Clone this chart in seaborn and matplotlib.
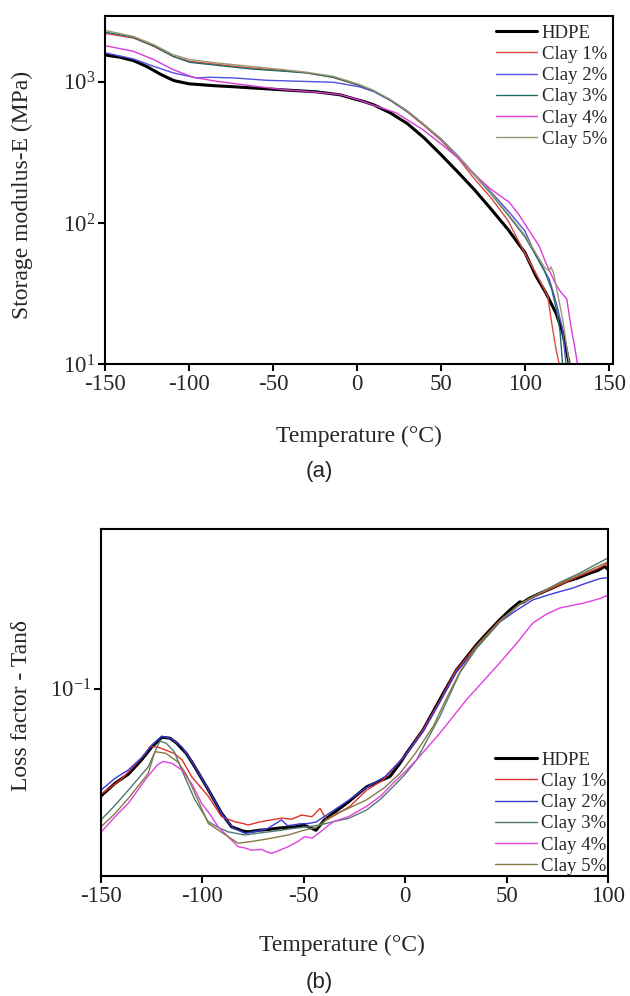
import matplotlib
matplotlib.use('Agg')

import matplotlib.pyplot as plt
from matplotlib.ticker import NullLocator, FixedLocator
import pandas as pd
import seaborn as sns

#   Data
#   (a) storage modulus E' (MPa) vs temperature (degC)
hdpe_a_t = [-150, -141, -133, -125, -117, -109, -100, -85, -74, -60, -44, -24, -10, 0, 3.6, 10, 20,
            30, 40, 50, 60, 70, 80, 90, 100, 106.7, 112.6, 118.6, 122.5, 126.5]
hdpe_a_e = [1541, 1486, 1406, 1276, 1127, 1016, 964, 935, 920, 898, 874, 846, 806, 745, 726, 685, 600,
            505, 400, 305, 230, 172, 125, 90, 62, 42, 32, 23, 16.9, 10]

clay1_a_t = [-150, -133, -121, -109.4, -99.5, -80, -63.8, -44, -30, -14.2, 1.6, 10, 20, 30, 40, 50, 60,
             70, 80, 90, 100.7, 108, 113.6, 115.6, 118.6, 120.5]
clay1_a_e = [2190, 2032, 1774, 1507, 1390, 1310, 1250, 1195, 1152, 1072, 937, 855, 735, 610, 488, 385,
             290, 205, 150, 104, 59, 41, 30.6, 21, 12.8, 10]

clay2_a_t = [-150, -133, -121, -109.4, -95.5, -87.6, -73.7, -53.9, -34, -14, 1.6, 10, 20, 30, 40, 50,
             60, 71, 80, 90.8, 100, 106.7, 114.6, 118.6, 122.5, 124.5]
clay2_a_e = [1600, 1445, 1282, 1152, 1062, 1072, 1062, 1021, 1005, 989, 918, 850, 735, 615, 495, 395,
             300, 215, 165, 119, 88, 58.6, 40, 27.5, 17.8, 10]

clay3_a_t = [-150, -133, -121, -109.4, -99.5, -80, -63.8, -44, -30, -14.2, 1.6, 10, 20, 30, 40, 50, 60,
             70, 80, 90, 100, 107, 112, 116, 119, 121, 122.5]
clay3_a_e = [2240, 2052, 1790, 1507, 1368, 1290, 1230, 1185, 1152, 1072, 940, 860, 740, 620, 495, 390,
             295, 218, 160, 114, 80, 58, 45, 34, 24, 17, 10]

clay4_a_t = [-150, -133, -121, -109.4, -97.5, -83.6, -63.8, -44, -24.2, -10.4, 0, 10, 23.4, 39.2, 49.2,
             60, 67, 78.8, 90.8, 96.6, 104.6, 108.5, 112.6, 118.4, 121, 125, 126.5, 128, 129.4, 131.4]
clay4_a_e = [1795, 1636, 1429, 1215, 1072, 1005, 937, 878, 841, 810, 750, 680, 601, 458, 370,
             290, 239, 177, 140, 114, 81, 69, 52, 37, 33, 29, 22, 17, 14, 10]

clay5_a_t = [-150, -133, -121, -109.4, -99.5, -83.6, -63.8, -44, -30, -14.2, 1.6, 10, 20, 30, 40, 50,
             60, 70, 80, 90, 100, 107, 112, 114.5, 115.5, 117, 118.6, 122.5, 126.5]
clay5_a_e = [2301, 2084, 1824, 1550, 1429, 1354, 1282, 1215, 1164, 1090, 953, 865, 745, 622, 497, 392,
             298, 220, 162, 116, 82, 60, 48, 46, 49, 45, 36, 21, 10]

#   (b) loss factor tan delta vs temperature (degC)
hdpe_b_t = [-150, -143, -136.5, -130, -125, -120, -116, -112.7, -108, -104.8, -97, -90.5, -85.6, -80,
            -77.4, -72, -67.6, -62, -54.4, -50, -46, -44, -40, -35.5, -28, -19, -12, -7.6, -3, 0.6,
            8.8, 17, 25.3, 35, 41, 46.6, 52, 56.5, 58, 61, 66.3, 72, 79.5, 85, 91, 95, 98.4, 100]
hdpe_b_d = [0.0440, 0.0485, 0.052, 0.058, 0.064, 0.069, 0.0685, 0.066, 0.061, 0.0565, 0.046, 0.0385,
            0.0347, 0.0336, 0.0334, 0.0338, 0.034, 0.0344, 0.0347, 0.0352, 0.0343, 0.0338, 0.0365,
            0.0385, 0.042, 0.0472, 0.0495, 0.051, 0.056, 0.061, 0.073, 0.092, 0.1157, 0.140, 0.155,
            0.170, 0.184, 0.195, 0.194, 0.200, 0.208, 0.216, 0.228, 0.234, 0.243, 0.248, 0.256, 0.250]

clay1_b_t = [-150, -140, -133, -128, -125.9, -122, -118, -114, -110, -105.3, -97, -90.5, -84, -80,
             -77.4, -72, -67, -61, -56, -51, -46, -42, -38.8, -33, -27.3, -19, -10.9, -5, 0, 8.8, 17,
             25, 35, 46.6, 56, 66, 76, 86, 95, 100]
clay1_b_d = [0.0445, 0.050, 0.056, 0.061, 0.0642, 0.064, 0.0625, 0.061, 0.058, 0.051, 0.0438, 0.0375,
             0.0361, 0.0356, 0.0352, 0.036, 0.0365, 0.0371, 0.0368, 0.038, 0.0375, 0.040, 0.0366,
             0.0385, 0.0406, 0.046, 0.0497, 0.055, 0.060, 0.073, 0.091, 0.115, 0.139, 0.169, 0.190,
             0.207, 0.222, 0.238, 0.252, 0.262]

clay2_b_t = [-150, -143, -136.5, -130, -125, -120, -115, -110, -105, -97, -90, -85, -79, -74, -68, -61,
             -58, -52, -48, -44, -40, -35, -28, -19, -10, 0, 8.8, 17, 25, 35, 46.6, 55, 63, 72, 82.8,
             90, 95.9, 100]
clay2_b_d = [0.046, 0.0504, 0.0537, 0.059, 0.065, 0.0695, 0.068, 0.064, 0.057, 0.046, 0.038, 0.0345,
             0.033, 0.0335, 0.0342, 0.0366, 0.035, 0.0355, 0.0356, 0.036, 0.0375, 0.0395, 0.0425, 0.047,
             0.051, 0.060, 0.072, 0.090, 0.113, 0.137, 0.167, 0.183, 0.198, 0.207, 0.217, 0.226, 0.233,
             0.235]

clay3_b_t = [-150, -143, -136.5, -126.7, -121, -118, -114, -110.2, -103.7, -97.1, -92, -87.3, -79, -72,
             -64, -55, -48, -42, -35.5, -28, -19, -12, -6, 0, 5.6, 10, 17.1, 26.9, 35, 46.6, 56, 66,
             76, 86, 95, 100]
clay3_b_d = [0.0366, 0.041, 0.046, 0.055, 0.067, 0.066, 0.062, 0.0537, 0.0427, 0.0361, 0.0345, 0.0334,
             0.0326, 0.0331, 0.0336, 0.0343, 0.0347, 0.0352, 0.0361, 0.037, 0.0395, 0.043, 0.0472,
             0.052, 0.058, 0.066, 0.081, 0.113, 0.136, 0.167, 0.190, 0.208, 0.226, 0.243, 0.262, 0.273]

clay4_b_t = [-150, -143.1, -136.5, -128.3, -122, -119.3, -115, -110.2, -105, -100.4, -96, -92.2, -87,
             -82.3, -79, -75.7, -71, -68, -65.9, -62, -57.7, -53, -49.5, -46, -42, -35.5, -28, -19.1,
             -12, -6, 0, 5.6, 17.1, 30.2, 46.6, 55, 63, 70, 76.2, 87.7, 95, 100]
clay4_b_d = [0.0333, 0.0375, 0.0416, 0.0497, 0.056, 0.0573, 0.0565, 0.0537, 0.048, 0.0416, 0.038,
             0.0347, 0.032, 0.0298, 0.0295, 0.029, 0.0292, 0.0286, 0.0283, 0.029, 0.0298, 0.031,
             0.0322, 0.0318, 0.0333, 0.0361, 0.0375, 0.0406, 0.044, 0.0485, 0.053, 0.058, 0.0712,
             0.092, 0.122, 0.142, 0.166, 0.178, 0.186, 0.193, 0.199, 0.205]

clay5_b_t = [-150, -143, -136.5, -126.7, -123.4, -118, -112, -108, -103.7, -97.1, -87.3, -82.3, -76,
             -70.8, -64, -57.7, -50, -44, -35.5, -28, -19, -10, -2.6, 5, 13.8, 20, 27, 35, 46.6, 56,
             66, 76, 86, 95, 100]
clay5_b_d = [0.0347, 0.0385, 0.0432, 0.0523, 0.0618, 0.061, 0.057, 0.052, 0.0449, 0.0356, 0.0322,
             0.0306, 0.031, 0.0314, 0.032, 0.0326, 0.0338, 0.0345, 0.038, 0.040, 0.0427, 0.047, 0.0523,
             0.061, 0.075, 0.092, 0.114, 0.138, 0.168, 0.191, 0.208, 0.224, 0.240, 0.256, 0.265]

labels = ['HDPE', 'Clay 1%', 'Clay 2%', 'Clay 3%', 'Clay 4%', 'Clay 5%']
colors_a = ['black', '#e04844', '#5050e0', '#1f6b63', '#d83cd8', '#9c9870']
colors_b = ['black', '#e0302a', '#3a3ad8', '#4f7a72', '#e040e0', '#857a45']
widths = [2.2, 1.0, 1.0, 1.0, 1.0, 1.0]

series_a = [(hdpe_a_t, hdpe_a_e), (clay1_a_t, clay1_a_e), (clay2_a_t, clay2_a_e),
            (clay3_a_t, clay3_a_e), (clay4_a_t, clay4_a_e), (clay5_a_t, clay5_a_e)]
series_b = [(hdpe_b_t, hdpe_b_d), (clay1_b_t, clay1_b_d), (clay2_b_t, clay2_b_d),
            (clay3_b_t, clay3_b_d), (clay4_b_t, clay4_b_d), (clay5_b_t, clay5_b_d)]

sns.set_style('ticks')
plt.rcParams['font.family'] = ['Liberation Serif', 'DejaVu Serif']
plt.rcParams['mathtext.fontset'] = 'stix'
plt.rcParams['axes.unicode_minus'] = False
plt.rcParams['axes.linewidth'] = 1.5

fig = plt.figure(figsize=(6.3, 9.96), dpi=100)
ax_a = fig.add_axes([105 / 630, 1 - 364.5 / 996, 508 / 630, 348 / 996])
ax_b = fig.add_axes([101 / 630, 1 - 876 / 996, 507 / 630, 347 / 996])

#   Graph (a)
for (t, e), lab, c, w in zip(series_a, labels, colors_a, widths):
    df = pd.DataFrame({'T': t, 'E': e})
    sns.lineplot(data=df, x='T', y='E', ax=ax_a, color=c, lw=w, label=lab,
                 estimator=None, sort=False)

ax_a.set_yscale('log')
ax_a.set_xlim(-150, 152.5)
ax_a.set_ylim(10, 2884)
ax_a.xaxis.set_major_locator(FixedLocator([-150, -100, -50, 0, 50, 100, 150]))
ax_a.yaxis.set_minor_locator(NullLocator())

ax_a.set_xlabel('Temperature (°C)', fontsize=17, va='center')
ax_a.set_ylabel('Storage modulus-E (MPa)', fontsize=17, va='center')
ax_a.xaxis.set_label_coords(0.5, -0.2075)
ax_a.yaxis.set_label_coords(-0.163, 0.487)

ax_a.legend(loc='upper right', bbox_to_anchor=(0.988, 0.977), frameon=False, fontsize=13.5,
            borderpad=0, borderaxespad=0, labelspacing=0.22, handlelength=2.2,
            handletextpad=0.25)

#   Graph (b)
for (t, d), lab, c, w in zip(series_b, labels, colors_b, widths):
    df = pd.DataFrame({'T': t, 'D': d})
    sns.lineplot(data=df, x='T', y='D', ax=ax_b, color=c, lw=w, label=lab,
                 estimator=None, sort=False)

ax_b.set_yscale('log')
ax_b.set_xlim(-150, 100)
ax_b.set_ylim(0.0238, 0.341)
ax_b.xaxis.set_major_locator(FixedLocator([-150, -100, -50, 0, 50, 100]))
ax_b.yaxis.set_major_locator(FixedLocator([0.1]))
ax_b.yaxis.set_minor_locator(NullLocator())

ax_b.set_xlabel('Temperature (°C)', fontsize=17, va='center')
ax_b.set_ylabel('Loss factor - Tanδ', fontsize=17, va='center')
ax_b.xaxis.set_label_coords(0.475, -0.199)
ax_b.yaxis.set_label_coords(-0.156, 0.49)

ax_b.legend(loc='lower right', bbox_to_anchor=(0.997, 0.003), frameon=False, fontsize=13.5,
            borderpad=0, borderaxespad=0, labelspacing=0.22, handlelength=2.2,
            handletextpad=0.25)

for ax in (ax_a, ax_b):
    ax.tick_params(axis='both', which='major', direction='out', length=5, width=1.5,
                   labelsize=16.5, pad=2, color='black')
    for sp in ax.spines.values():
        sp.set_visible(True)
        sp.set_color('black')

fig.text(319 / 630, 1 - 471.7 / 996, '(a)', ha='center', va='center', fontsize=16,
         family=['Liberation Sans', 'DejaVu Sans'])
fig.text(319 / 630, 1 - 982 / 996, '(b)', ha='center', va='center', fontsize=16,
         family=['Liberation Sans', 'DejaVu Sans'])

fig.savefig('out.png', dpi=100, facecolor='white')
